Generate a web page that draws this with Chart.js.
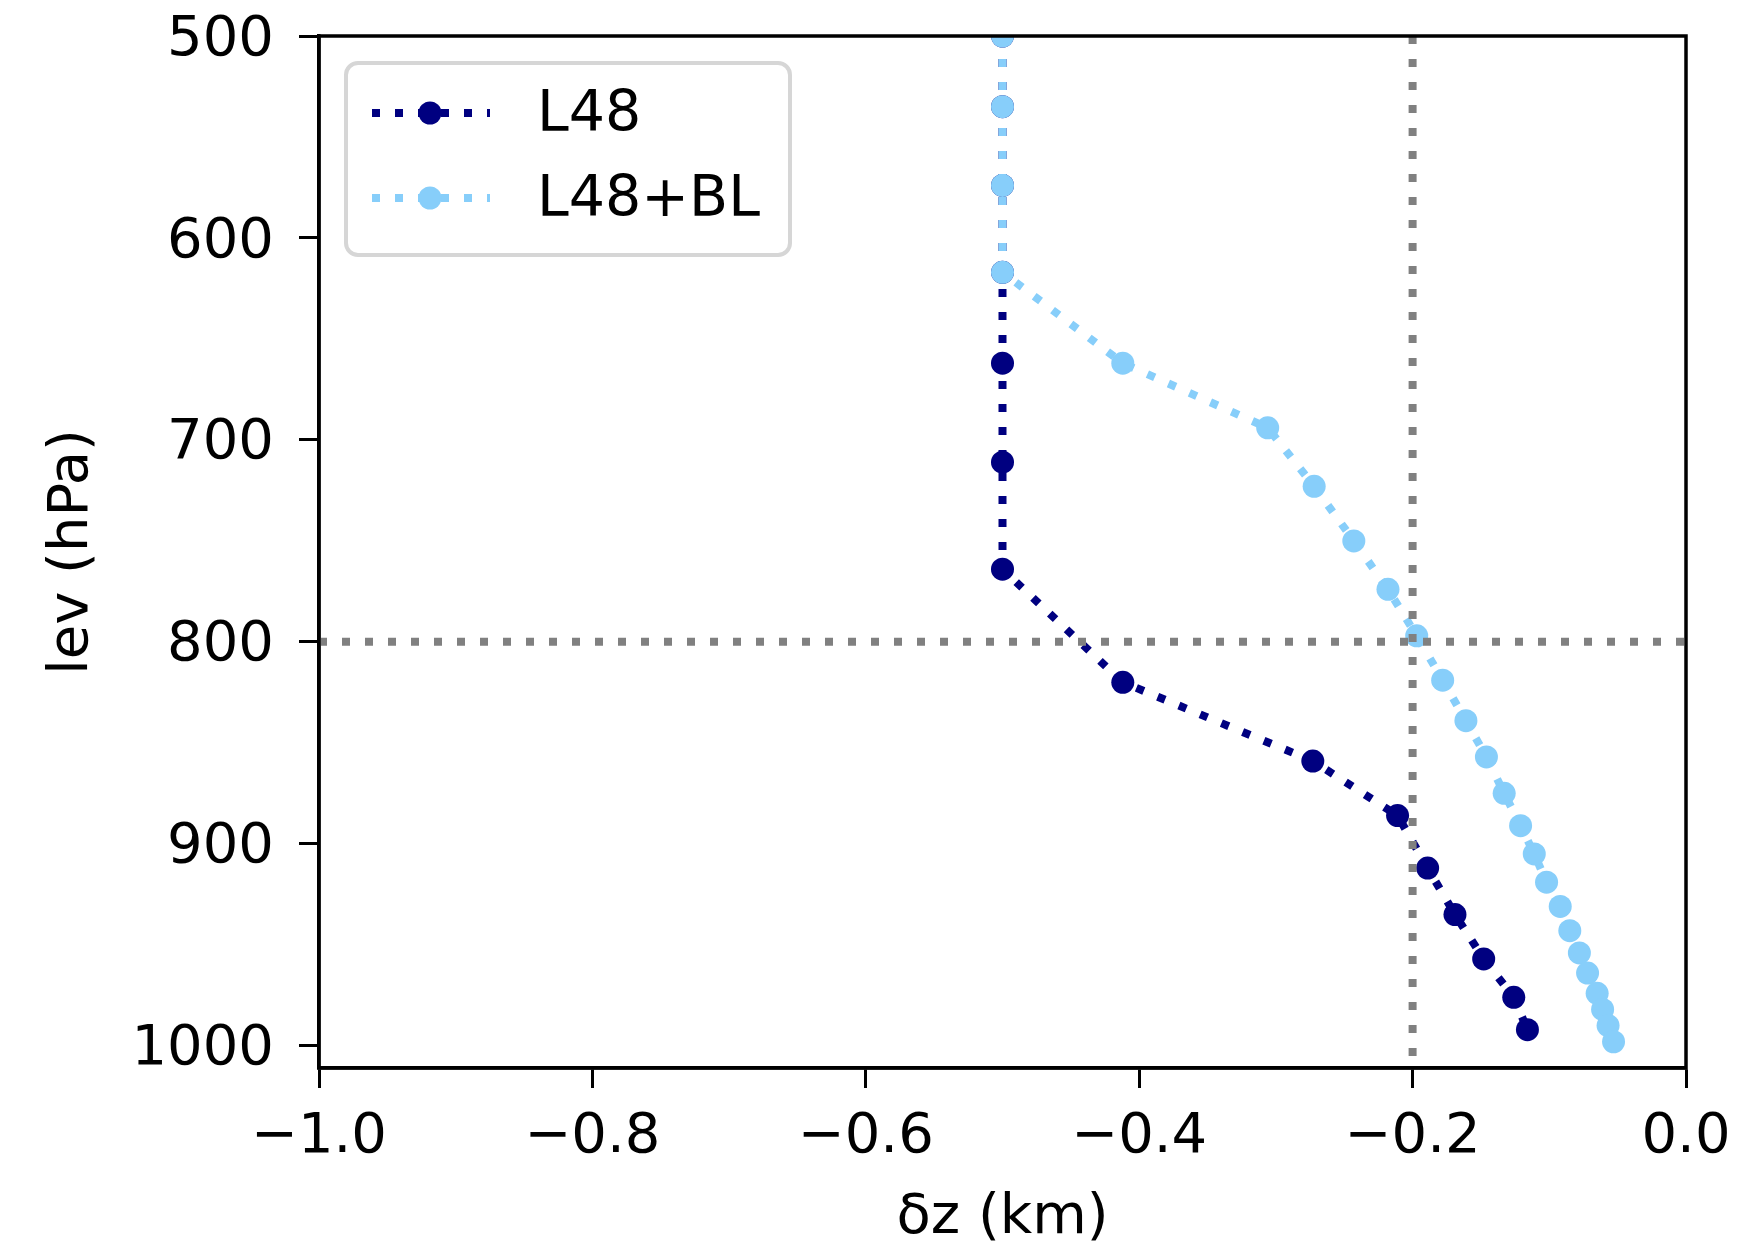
<!DOCTYPE html>
<html>
<head>
  <meta charset="utf-8" />
  <title>lev vs dz</title>
  <style>
    body { margin: 0; background: #fff; }
    #wrap { width: 1757px; height: 1244px; }
  </style>
</head>
<body>
  <div id="wrap"><canvas id="stage" width="1757" height="1244"></canvas></div>

  <script src="https://cdn.jsdelivr.net/npm/chart.js@4.4.1/dist/chart.umd.min.js"></script>
  <script>
    // L48 の各レベル (hPa) と δz (km)
    const levL48 = [500, 535, 574, 617, 662, 711, 764, 820, 859, 886, 912, 935, 957, 976, 992];
    const dzL48 = [-0.5, -0.5, -0.5, -0.5, -0.5, -0.5, -0.5, -0.412, -0.273, -0.211, -0.189, -0.169, -0.148, -0.126, -0.116];

    // L48+BL
    const levBL = [500, 535, 574, 617, 662, 694, 723, 750, 774, 797, 819, 839, 857, 875, 891, 905, 919, 931, 943, 954, 964, 974, 982, 990, 998];
    const dzBL = [-0.5, -0.5, -0.5, -0.5, -0.412, -0.306, -0.272, -0.243, -0.218, -0.197, -0.178, -0.161, -0.146, -0.133, -0.121, -0.111, -0.102, -0.092, -0.085, -0.078, -0.072, -0.065, -0.061, -0.057, -0.053];

    // 補助線
    const refLev = 800;
    const refDz = -0.2;

    // 軸
    const xRange = [-1.0, 0.0];
    const yRange = [500, 1011];
    const xTicks = [-1.0, -0.8, -0.6, -0.4, -0.2, 0.0];
    const yTicks = [500, 600, 700, 800, 900, 1000];

    const FONT = 'DejaVu Sans';
    const dash = [8, 15];

    const pts = (xs, ys) => xs.map((x, i) => ({ x: x, y: ys[i] }));

    // 枠と凡例
    const legendBox = {
      id: 'legendBox',
      afterDraw(chart) {
        const ctx = chart.ctx;
        const a = chart.chartArea;

        ctx.save();
        ctx.strokeStyle = '#000';
        ctx.lineWidth = 3.5;
        ctx.strokeRect(a.left, a.top, a.right - a.left, a.bottom - a.top);
        ctx.restore();

        const bx = a.left + 27, by = a.top + 27, bw = 444, bh = 192, r = 12;
        ctx.save();
        ctx.beginPath();
        ctx.moveTo(bx + r, by);
        ctx.arcTo(bx + bw, by, bx + bw, by + bh, r);
        ctx.arcTo(bx + bw, by + bh, bx, by + bh, r);
        ctx.arcTo(bx, by + bh, bx, by, r);
        ctx.arcTo(bx, by, bx + bw, by, r);
        ctx.closePath();
        ctx.fillStyle = 'rgba(255,255,255,0.8)';
        ctx.fill();
        ctx.strokeStyle = '#d6d6d6';
        ctx.lineWidth = 4;
        ctx.stroke();

        const items = chart.data.datasets.filter(d => d.label);
        items.forEach((d, i) => {
          const y = by + 50 + i * 85;
          ctx.beginPath();
          ctx.setLineDash(d.borderDash);
          ctx.lineCap = 'butt';
          ctx.strokeStyle = d.borderColor;
          ctx.lineWidth = d.borderWidth;
          ctx.moveTo(bx + 26, y);
          ctx.lineTo(bx + 144, y);
          ctx.stroke();
          ctx.setLineDash([]);
          ctx.beginPath();
          ctx.arc(bx + 84, y, d.pointRadius, 0, Math.PI * 2);
          ctx.fillStyle = d.backgroundColor;
          ctx.fill();

          ctx.fillStyle = '#000';
          ctx.font = '57px "' + FONT + '"';
          ctx.textBaseline = 'middle';
          ctx.fillText(d.label, bx + 191, y + 3);
        });
        ctx.restore();
      }
    };

    const tickFont = { family: FONT, size: 56 };

    new Chart(document.getElementById('stage'), {
      type: 'scatter',
      data: {
        datasets: [{
          data: pts([xRange[0], xRange[1]], [refLev, refLev]),
          borderColor: '#808080',
          borderWidth: 8,
          borderDash: dash,
          pointRadius: 0,
          showLine: true,
          clip: 0,
          order: 0,
        }, {
          data: pts([refDz, refDz], [yRange[0], yRange[1]]),
          borderColor: '#808080',
          borderWidth: 8,
          borderDash: dash,
          pointRadius: 0,
          showLine: true,
          clip: 0,
          order: 0,
        }, {
          label: 'L48',
          data: pts(dzL48, levL48),
          borderColor: '#000080',
          backgroundColor: '#000080',
          borderWidth: 8,
          borderDash: dash,
          pointRadius: 11.5,
          pointBorderWidth: 0,
          showLine: true,
          clip: 0,
          order: 2,
        }, {
          label: 'L48+BL',
          data: pts(dzBL, levBL),
          borderColor: '#87CEFA',
          backgroundColor: '#87CEFA',
          borderWidth: 8,
          borderDash: dash,
          pointRadius: 11.5,
          pointBorderWidth: 0,
          showLine: true,
          clip: 0,
          order: 1,
        }]
      },
      options: {
        responsive: false,
        animation: false,
        layout: { padding: { top: 36, right: 71, left: 0, bottom: 0 } },
        plugins: {
          legend: { display: false },
          tooltip: { enabled: false },
        },
        scales: {
          x: {
            type: 'linear',
            min: xRange[0],
            max: xRange[1],
            afterBuildTicks: s => { s.ticks = xTicks.map(v => ({ value: v })); },
            afterFit: s => { s.height = 176; s.paddingLeft = 0; s.paddingRight = 0; },
            grid: { drawOnChartArea: false, tickLength: 20, tickWidth: 3, color: '#000' },
            border: { color: '#000', width: 3.5 },
            ticks: {
              color: '#000',
              font: tickFont,
              padding: 16,
              maxRotation: 0,
              callback: v => v.toFixed(1).replace('-', '\u2212'),
            },
            title: {
              display: true,
              text: 'δz (km)',
              color: '#000',
              font: { family: FONT, size: 56, lineHeight: 0.9 },
              padding: { top: 0, bottom: 0 },
            },
          },
          y: {
            type: 'linear',
            reverse: true,
            min: yRange[0],
            max: yRange[1],
            afterBuildTicks: s => { s.ticks = yTicks.map(v => ({ value: v })); },
            afterFit: s => { s.width = 319; s.paddingTop = 0; s.paddingBottom = 0; },
            grid: { drawOnChartArea: false, tickLength: 20, tickWidth: 3, color: '#000' },
            border: { color: '#000', width: 3.5 },
            ticks: {
              color: '#000',
              font: tickFont,
              padding: 25,
              labelOffset: 4,
              callback: v => String(v),
            },
            title: {
              display: true,
              text: 'lev (hPa)',
              color: '#000',
              font: { family: FONT, size: 56, lineHeight: 1.0 },
              padding: { top: 44, bottom: 0 },
            },
          },
        },
      },
      plugins: [legendBox],
    });
  </script>
</body>
</html>
